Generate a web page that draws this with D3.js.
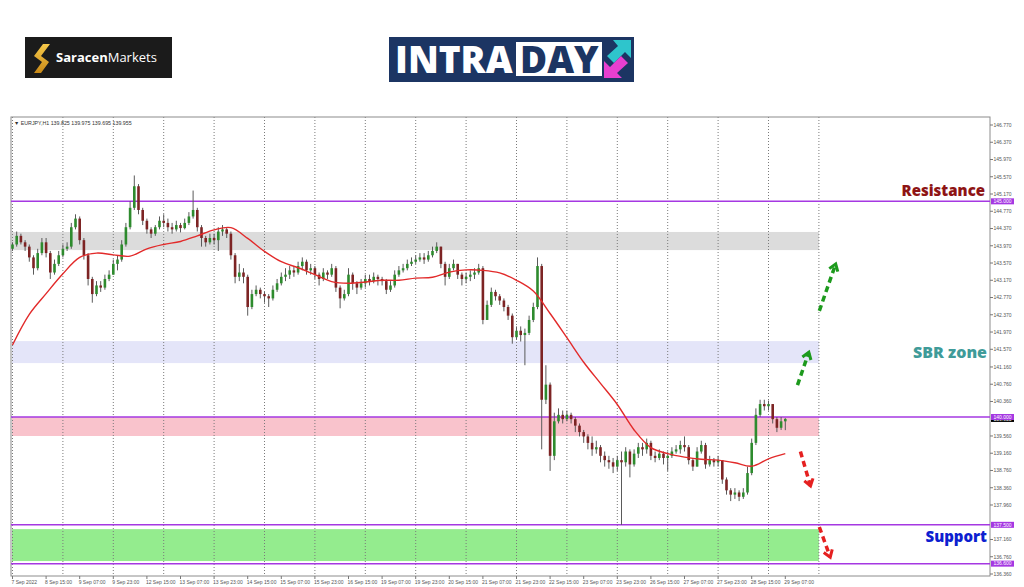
<!DOCTYPE html>
<html>
<head>
<meta charset="utf-8">
<script src="https://cdn.jsdelivr.net/npm/d3@7"></script>
<style>
  body { margin: 0; background: #fff; }
  svg { display: block; }
</style>
</head>
<body>
<div id="chart"></div>
<script>
// EURJPY H1 chart (drawn as 2-hour candles)
var firstOpen = 143.90;
var closes = [
  144.00,144.20,144.05,143.95,143.70,143.45,143.80,144.05,143.80,143.35,
  143.55,143.75,143.90,143.95,144.40,144.60,144.10,143.75,143.20,142.85,
  143.05,143.00,143.20,143.30,143.55,143.65,144.00,144.40,144.85,145.35,
  144.80,144.55,144.35,144.25,144.40,144.55,144.50,144.40,144.35,144.45,
  144.38,144.50,144.65,144.80,144.40,144.15,144.05,144.15,144.10,144.30,
  144.35,144.25,143.75,143.25,143.35,143.25,142.55,142.85,142.95,142.85,
  142.80,142.75,142.95,143.10,143.25,143.30,143.40,143.35,143.50,143.60,
  143.40,143.45,143.30,143.20,143.35,143.30,143.45,143.00,142.75,142.85,
  143.30,143.10,143.00,143.10,143.20,143.15,143.25,143.20,143.15,142.95,
  143.05,143.30,143.40,143.45,143.55,143.60,143.65,143.70,143.65,143.75,
  143.85,143.95,143.55,143.25,143.45,143.55,143.30,143.20,143.25,143.30,
  143.35,143.45,142.25,142.60,142.90,142.80,142.70,142.55,142.35,141.85,
  142.00,141.90,141.95,142.25,142.55,143.50,140.40,140.75,139.10,139.90,
  140.05,139.95,140.05,139.95,139.80,139.65,139.55,139.40,139.25,139.30,
  139.10,139.00,138.95,138.85,139.00,138.95,139.20,138.90,139.15,139.30,
  139.25,139.40,139.10,139.05,139.15,139.05,139.10,139.20,139.25,139.35,
  139.30,139.00,138.85,139.20,139.35,138.90,139.00,138.95,139.00,138.55,
  138.30,138.20,138.25,138.15,138.25,138.70,139.40,140.05,140.30,140.25,
  140.30,139.95,139.75,139.90,139.955
];
var highs = [
  144.05,144.30,144.25,144.10,144.00,143.75,143.90,144.15,144.15,143.85,
  143.65,143.85,144.00,144.05,144.50,144.70,144.65,144.15,143.80,143.25,
  143.15,143.15,143.30,143.40,143.65,143.75,144.10,144.50,145.00,145.60,
  145.40,144.85,144.60,144.40,144.45,144.65,144.70,144.60,144.50,144.55,
  144.50,144.60,144.75,145.25,144.85,144.45,144.20,144.25,144.25,144.40,
  144.45,144.40,144.30,143.80,143.55,143.45,143.30,142.95,143.05,143.00,
  142.90,142.85,143.05,143.20,143.35,143.45,143.50,143.50,143.60,143.70,
  143.65,143.55,143.50,143.35,143.45,143.40,143.55,143.50,143.05,142.95,
  143.45,143.35,143.15,143.20,143.30,143.30,143.35,143.30,143.25,143.20,
  143.15,143.40,143.50,143.55,143.65,143.70,143.75,143.80,143.80,143.85,
  143.95,144.05,143.95,143.60,143.55,143.65,143.55,143.35,143.35,143.40,
  143.45,143.55,143.50,142.70,143.00,142.95,142.85,142.75,142.60,142.40,
  142.10,142.10,142.05,142.35,142.65,143.70,143.55,141.20,140.80,140.10,
  140.20,140.15,140.15,140.10,140.00,139.85,139.70,139.60,139.55,139.45,
  139.35,139.20,139.10,139.05,139.10,139.20,139.30,139.25,139.25,139.40,
  139.40,139.50,139.45,139.20,139.25,139.20,139.20,139.30,139.35,139.45,
  139.55,139.35,139.05,139.30,139.45,139.40,139.10,139.05,139.10,139.00,
  138.60,138.35,138.35,138.30,138.35,138.85,139.50,140.20,140.40,140.40,
  140.38,140.30,140.00,140.00,139.975
];
var lows = [
  143.85,143.95,144.00,143.85,143.60,143.30,143.40,143.75,143.70,143.20,
  143.30,143.50,143.70,143.85,143.90,144.35,144.00,143.65,143.05,142.65,
  142.80,142.90,142.95,143.15,143.30,143.40,143.60,143.95,144.35,144.80,
  144.70,144.45,144.25,144.15,144.20,144.35,144.40,144.30,144.25,144.30,
  144.28,144.35,144.45,144.60,144.30,143.95,143.95,144.00,144.00,143.85,
  144.20,144.15,143.65,143.10,143.15,143.10,142.35,142.50,142.80,142.75,
  142.65,142.55,142.70,142.90,143.05,143.15,143.20,143.25,143.30,143.40,
  143.30,143.30,143.20,143.05,143.15,143.20,143.25,142.90,142.52,142.70,
  142.80,142.95,142.85,142.95,143.00,143.05,143.10,143.05,143.05,142.85,
  142.90,143.00,143.25,143.35,143.40,143.50,143.55,143.60,143.55,143.60,
  143.70,143.80,143.45,143.05,143.20,143.40,143.20,143.05,143.10,143.15,
  143.20,143.30,142.15,142.25,142.55,142.70,142.60,142.45,142.25,141.70,
  141.80,141.75,141.20,141.90,142.20,142.50,139.25,140.30,138.75,139.00,
  139.85,139.85,139.90,139.85,139.65,139.55,139.40,139.25,139.10,139.15,
  138.95,138.85,138.80,138.70,138.75,137.50,138.85,138.60,138.85,139.05,
  139.10,139.15,139.00,138.95,139.00,138.90,138.75,139.05,139.15,139.15,
  139.20,138.90,138.75,138.85,139.15,138.80,138.85,138.85,138.85,138.45,
  138.20,138.05,138.10,138.05,138.10,138.20,138.65,139.35,140.00,140.15,
  140.15,139.85,139.65,139.70,139.695
];
// moving average, one reading every 4 candles
var maEvery4 = [
  141.67,142.38,142.86,143.32,143.70,143.80,143.76,143.73,143.90,144.00,
  144.07,144.20,144.34,144.39,144.14,143.84,143.60,143.46,143.30,143.14,
  143.10,143.13,143.17,143.17,143.22,143.24,143.36,143.41,143.40,143.34,
  143.17,142.92,142.40,141.84,141.27,140.78,140.29,139.70,139.29,139.15,
  139.07,139.02,139.00,138.94,138.86,139.03,139.15
];
var timeLabels = ["7 Sep 2022","8 Sep 15:00","9 Sep 07:00","9 Sep 23:00","12 Sep 15:00","13 Sep 07:00",
  "13 Sep 23:00","14 Sep 15:00","15 Sep 07:00","15 Sep 23:00","16 Sep 15:00","19 Sep 07:00",
  "19 Sep 23:00","20 Sep 15:00","21 Sep 07:00","21 Sep 23:00","22 Sep 15:00","23 Sep 07:00",
  "23 Sep 23:00","26 Sep 15:00","27 Sep 07:00","27 Sep 23:00","28 Sep 15:00","29 Sep 07:00"];
var priceTicks = ["146.770","146.370","145.970","145.570","145.170","144.770","144.370","143.970",
  "143.570","143.170","142.770","142.370","141.970","141.570","141.160","140.760","140.360",
  "139.560","139.160","138.760","138.360","137.960","137.160","136.760","136.360"];
var levels = [145.000, 140.000, 137.500, 136.600];
var zoneNames = ["resistance", "sbr", "pivot", "support"];
var zoneLow  = [143.87, 141.25, 139.56, 136.66];
var zoneHigh = [144.29, 141.76, 140.00, 137.40];
// dashed arrows: [from candle, from price, to candle, to price]
var upArrows   = [[186.9, 140.74, 189.6, 141.50], [192.1, 142.46, 196.0, 143.55]];
var downArrows = [[187.6, 139.20, 190.0, 138.40], [192.1, 137.45, 194.7, 136.75]];

var W = 1024, H = 587;
var plotLeft = 11, plotTop = 117, plotRight = 990, plotBottom = 576;

var svg = d3.select("#chart").append("svg")
    .attr("width", W)
    .attr("height", H);

/* ---- logos ---- */
var logo1 = svg.append("g");
logo1.append("rect").attr("x", 25).attr("y", 37).attr("width", 147).attr("height", 41).attr("fill", "#1b1b1b");
var grad = svg.append("defs").append("linearGradient").attr("id", "gold")
    .attr("x1", 0).attr("y1", 0).attr("x2", 0).attr("y2", 1);
grad.append("stop").attr("offset", "0").attr("stop-color", "#f6c94a");
grad.append("stop").attr("offset", "1").attr("stop-color", "#c98a18");
logo1.append("path")
    .attr("d", "M43,44 L50,44 L41,56 L49,62 L41,73 L34,73 L42,62 L34,56 Z")
    .attr("fill", "url(#gold)");
var t1 = logo1.append("text").attr("x", 56).attr("y", 62)
    .style("font-family", "'Open Sans', sans-serif").style("font-size", "13px").attr("fill", "#fff");
t1.append("tspan").text("Saracen").style("font-weight", 700);
t1.append("tspan").text("Markets").style("font-weight", 400);

var logo2 = svg.append("g");
logo2.append("rect").attr("x", 389).attr("y", 37).attr("width", 245).attr("height", 45).attr("fill", "#1c3563");
logo2.append("text").attr("x", 395).attr("y", 73).text("INTRA")
    .style("font-family", "'Open Sans', sans-serif").style("font-weight", 800).style("font-size", "37px")
    .attr("fill", "#fff");
logo2.append("rect").attr("x", 516).attr("y", 42).attr("width", 86).attr("height", 34).attr("fill", "#fff");
logo2.append("text").attr("x", 520).attr("y", 73).text("DAY")
    .style("font-family", "'Open Sans', sans-serif").style("font-weight", 800).style("font-size", "37px")
    .attr("fill", "#1c3563");
logo2.append("path").attr("d", "M613,40 L631,40 L631,58 L625,52 L614,63 L607,56 L618,46 Z").attr("fill", "#2ec5cc");
logo2.append("path").attr("d", "M604,78 L604,61 L610,67 L621,56 L628,63 L617,73 L622,78 Z").attr("fill", "#e83fd0");

/* ---- scales ---- */
var x = d3.scaleLinear().domain([0, 192]).range([12.5, 818.9]);
var y = d3.scaleLinear().domain([136.36, 146.77]).range([574, 125]);

var plot = svg.append("g");

// zones
var zoneFill = {resistance: "#dcdcdc", sbr: "#e4e5f9", pivot: "#f9c3cc", support: "#94ec8e"};
plot.selectAll("rect.zone").data(zoneNames).enter().append("rect")
    .attr("class", "zone")
    .attr("x", plotLeft + 1)
    .attr("width", x(192) - plotLeft - 1)
    .attr("y", function(d, i) { return y(zoneHigh[i]); })
    .attr("height", function(d, i) { return y(zoneLow[i]) - y(zoneHigh[i]); })
    .attr("fill", function(d) { return zoneFill[d]; });

// vertical dotted grid every 12 candles
plot.selectAll("line.grid").data(d3.range(0, 193, 12)).enter().append("line")
    .attr("x1", function(d) { return x(d); }).attr("x2", function(d) { return x(d); })
    .attr("y1", plotTop).attr("y2", plotBottom)
    .attr("stroke", "#7a7a7a").attr("stroke-width", 1).attr("stroke-dasharray", "1,2");

// frame
plot.append("rect").attr("x", plotLeft).attr("y", plotTop)
    .attr("width", plotRight - plotLeft).attr("height", plotBottom - plotTop)
    .attr("fill", "none").attr("stroke", "#8c8c8c").attr("stroke-width", 1);

// level lines
plot.selectAll("line.level").data(levels).enter().append("line")
    .attr("x1", plotLeft).attr("x2", plotRight)
    .attr("y1", function(d) { return y(d); }).attr("y2", function(d) { return y(d); })
    .attr("stroke", "#a538e2").attr("stroke-width", 1.5);

// candles
var candles = closes.map(function(c, i) {
  return {i: i, o: i === 0 ? firstOpen : closes[i - 1], h: highs[i], l: lows[i], c: c};
});
var cg = plot.append("g");
cg.selectAll("line.wick").data(candles).enter().append("line")
    .attr("x1", function(d) { return x(d.i); }).attr("x2", function(d) { return x(d.i); })
    .attr("y1", function(d) { return y(d.h); }).attr("y2", function(d) { return y(d.l); })
    .attr("stroke", "#5a5a5a").attr("stroke-width", 1);
cg.selectAll("rect.body").data(candles).enter().append("rect")
    .attr("x", function(d) { return x(d.i) - 1.3; })
    .attr("width", 2.6)
    .attr("y", function(d) { return y(Math.max(d.o, d.c)); })
    .attr("height", function(d) { return Math.max(1, Math.abs(y(d.o) - y(d.c))); })
    .attr("fill", function(d) { return d.c >= d.o ? "#2e8b2e" : "#7d2424"; });

// moving average
var ma = d3.line()
    .x(function(d, i) { return x(i * 4); })
    .y(function(d) { return y(d); })
    .curve(d3.curveCatmullRom);
plot.append("path").datum(maEvery4).attr("d", ma)
    .attr("fill", "none").attr("stroke", "#e22a2a").attr("stroke-width", 1.4);

/* ---- axes ---- */
var small = "'Liberation Sans', Arial, sans-serif";
var ax = svg.append("g");
ax.selectAll("line.ytick").data(priceTicks).enter().append("line")
    .attr("x1", plotRight).attr("x2", plotRight + 3)
    .attr("y1", function(d) { return y(+d); }).attr("y2", function(d) { return y(+d); })
    .attr("stroke", "#777");
ax.selectAll("text.ylab").data(priceTicks).enter().append("text")
    .attr("x", plotRight + 3.5).attr("y", function(d) { return y(+d) + 1.8; })
    .text(function(d) { return d; })
    .style("font-family", small).style("font-size", "5px").attr("fill", "#555");

// current price box then level boxes
var last = closes[closes.length - 1];
ax.append("rect").attr("x", plotRight + 1).attr("y", y(last) - 3).attr("width", 23).attr("height", 6).attr("fill", "#000");
ax.append("text").attr("x", plotRight + 3.5).attr("y", y(last) + 1.8).text(last.toFixed(3))
    .style("font-family", small).style("font-size", "5px").attr("fill", "#fff");
ax.selectAll("rect.lvl").data(levels).enter().append("rect")
    .attr("x", plotRight + 1).attr("y", function(d) { return y(d) - 3; })
    .attr("width", 23).attr("height", 6).attr("fill", "#a538e2");
ax.selectAll("text.lvl").data(levels).enter().append("text")
    .attr("x", plotRight + 3.5).attr("y", function(d) { return y(d) + 1.8; })
    .text(function(d) { return d.toFixed(3); })
    .style("font-family", small).style("font-size", "5px").attr("fill", "#fff");

// time labels every 8 candles
ax.selectAll("line.xtick").data(timeLabels).enter().append("line")
    .attr("x1", function(d, i) { return x(i * 8); }).attr("x2", function(d, i) { return x(i * 8); })
    .attr("y1", plotBottom).attr("y2", plotBottom + 3).attr("stroke", "#777");
ax.selectAll("text.xlab").data(timeLabels).enter().append("text")
    .attr("x", function(d, i) { return x(i * 8) - 1; }).attr("y", plotBottom + 8)
    .text(function(d) { return d; })
    .style("font-family", small).style("font-size", "5px").attr("fill", "#555");

// symbol header
svg.append("text").attr("x", 14).attr("y", 125)
    .text("\u25BC EURJPY,H1  139.825 139.975 139.695 139.955")
    .style("font-family", small).style("font-size", "5.3px").attr("fill", "#333");

/* ---- annotations ---- */
function dashedArrow(a, color) {
  var x1 = x(a[0]), y1 = y(a[1]), x2 = x(a[2]), y2 = y(a[3]);
  var g = svg.append("g");
  g.append("line").attr("x1", x1).attr("y1", y1).attr("x2", x2).attr("y2", y2)
      .attr("stroke", color).attr("stroke-width", 3.5).attr("stroke-dasharray", "6,4");
  var ang = Math.atan2(y2 - y1, x2 - x1), len = 8, spread = 0.6;
  var p1 = [x2 - len * Math.cos(ang - spread), y2 - len * Math.sin(ang - spread)];
  var p2 = [x2 - len * Math.cos(ang + spread), y2 - len * Math.sin(ang + spread)];
  g.append("path").attr("d", "M" + p1 + " L" + [x2, y2] + " L" + p2)
      .attr("fill", "none").attr("stroke", color).attr("stroke-width", 3);
}
upArrows.forEach(function(a) { dashedArrow(a, "#1d9a1d"); });
downArrows.forEach(function(a) { dashedArrow(a, "#e52020"); });

var big = "'Open Sans', 'Noto Sans', sans-serif";
svg.append("text").attr("x", 985).attr("y", 196).attr("text-anchor", "end").text("Resistance")
    .style("font-family", big).style("font-weight", 800).style("font-size", "15px").attr("fill", "#8e1414");
svg.append("text").attr("x", 987).attr("y", 358).attr("text-anchor", "end").text("SBR zone")
    .style("font-family", big).style("font-weight", 800).style("font-size", "16px").attr("fill", "#3f9b99");
svg.append("text").attr("x", 987).attr("y", 542).attr("text-anchor", "end").text("Support")
    .style("font-family", big).style("font-weight", 800).style("font-size", "15px").attr("fill", "#0d1fd0");
</script>
</body>
</html>
